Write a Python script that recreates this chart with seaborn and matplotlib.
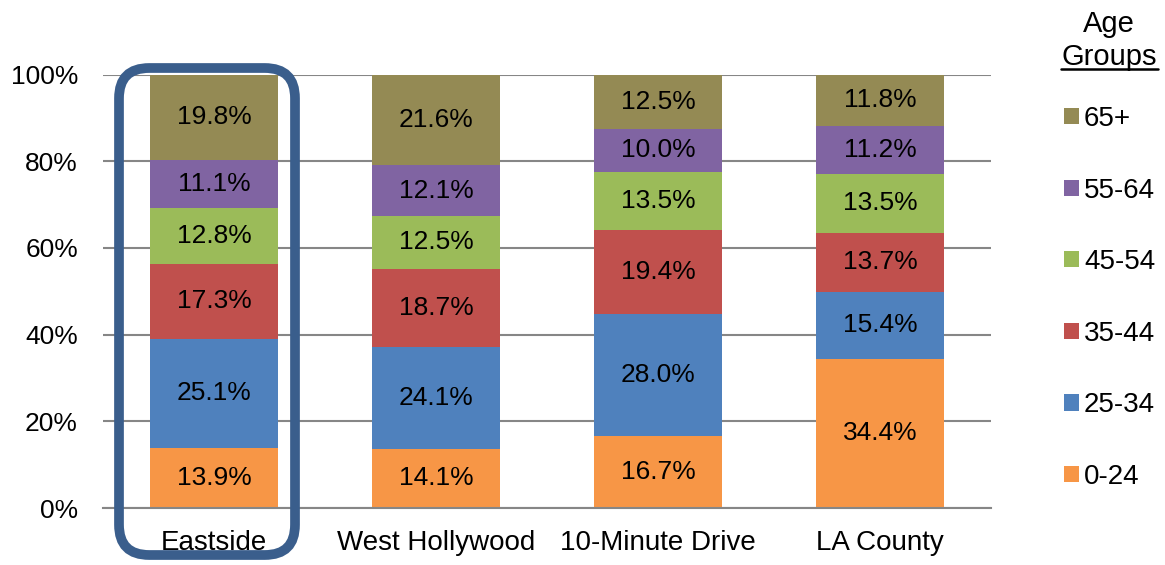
import numpy as np
import pandas as pd
import matplotlib
matplotlib.use("Agg")
import matplotlib.pyplot as plt
import seaborn as sns
from matplotlib.patches import FancyBboxPatch, Patch
from matplotlib.lines import Line2D
from matplotlib.ticker import PercentFormatter

# Data
areas = ["Eastside", "West Hollywood", "10-Minute Drive", "LA County"]
age_groups = ["0-24", "25-34", "35-44", "45-54", "55-64", "65+"]
pct_0_24 = [13.9, 14.1, 16.7, 34.4]
pct_25_34 = [25.1, 24.1, 28.0, 15.4]
pct_35_44 = [17.3, 18.7, 19.4, 13.7]
pct_45_54 = [12.8, 12.5, 13.5, 13.5]
pct_55_64 = [11.1, 12.1, 10.0, 11.2]
pct_65_plus = [19.8, 21.6, 12.5, 11.8]

colors = ["#F79646", "#4F81BD", "#C0504D", "#9BBB59", "#8064A2", "#948A54"]

sns.set_theme(style="white")
plt.rcParams["font.family"] = ["Liberation Sans", "DejaVu Sans"]
plt.rcParams["text.color"] = "black"

FS = 19

values = pd.DataFrame(
    [pct_0_24, pct_25_34, pct_35_44, pct_45_54, pct_55_64, pct_65_plus],
    index=age_groups, columns=areas,
)
# 100% stacked: each column scaled to its total
shares = values / values.sum(axis=0)
tops = shares.cumsum(axis=0)
bottoms = tops - shares

fig = plt.figure(figsize=(11.65, 5.65), dpi=100)
ax = fig.add_axes([103 / 1165, 1 - 508 / 565, 888 / 1165, (508 - 74.5) / 565])

# draw cumulative bars from the top layer down so lower layers overlay
bar_width = 0.577
for group, color in reversed(list(zip(age_groups, colors))):
    df = pd.DataFrame({"area": areas, "top": tops.loc[group].values})
    sns.barplot(data=df, x="area", y="top", order=areas, color=color,
                saturation=1, width=bar_width, linewidth=0, ax=ax, zorder=2)

# segment labels
for group in age_groups:
    for i, area in enumerate(areas):
        mid = (bottoms.loc[group, area] + tops.loc[group, area]) / 2
        ax.text(i, mid, f"{values.loc[group, area]:.1f}%", ha="center",
                va="center", fontsize=FS, color="black", zorder=3)

ax.set_xlim(-0.5, len(areas) - 0.5)
ax.set_ylim(0, 1)
ax.set_yticks(np.arange(0, 1.01, 0.2))
ax.yaxis.set_major_formatter(PercentFormatter(1.0, decimals=0))
ax.yaxis.grid(True, color="#868686", linewidth=1.5)
ax.set_axisbelow(True)
ax.tick_params(axis="y", length=0, pad=18, labelsize=FS)
ax.tick_params(axis="x", length=0, pad=15.5, labelsize=20)
ax.set_xlabel("")
ax.set_ylabel("")
for side in ["left", "right", "top"]:
    ax.spines[side].set_visible(False)
ax.spines["bottom"].set_color("#868686")
ax.spines["bottom"].set_linewidth(1.5)
for lbl in ax.get_xticklabels() + ax.get_yticklabels():
    lbl.set_color("black")

# highlight box around Eastside
box = FancyBboxPatch((119 / 1165, 1 - 555 / 565), (295 - 119) / 1165,
                     (555 - 68) / 565,
                     boxstyle="round,pad=0,rounding_size=0.026",
                     transform=fig.transFigure, fill=False,
                     edgecolor="#3A5E8C", linewidth=7, zorder=5,
                     mutation_aspect=1165 / 565)
fig.patches.append(box)

# legend
handles = [Patch(facecolor=c, edgecolor="none", label=g)
           for g, c in zip(age_groups, colors)][::-1]
fig.legend(handles=handles, loc="upper left",
           bbox_to_anchor=(1053 / 1165, 1 - 95 / 565), frameon=False,
           fontsize=20, handlelength=0.52, handleheight=0.52,
           handletextpad=0.2, labelspacing=1.64, borderaxespad=0,
           labelcolor="black")
fig.text(1109 / 1165, 1 - 24 / 565, "Age", ha="center", va="center",
         fontsize=21, color="black")
fig.text(1109 / 1165, 1 - 57 / 565, "Groups", ha="center", va="center",
         fontsize=21, color="black")
fig.add_artist(Line2D([1061 / 1165, 1158 / 1165], [1 - 69 / 565, 1 - 69 / 565],
                      transform=fig.transFigure, color="black", linewidth=1.8))

fig.savefig("out.png", dpi=100)
